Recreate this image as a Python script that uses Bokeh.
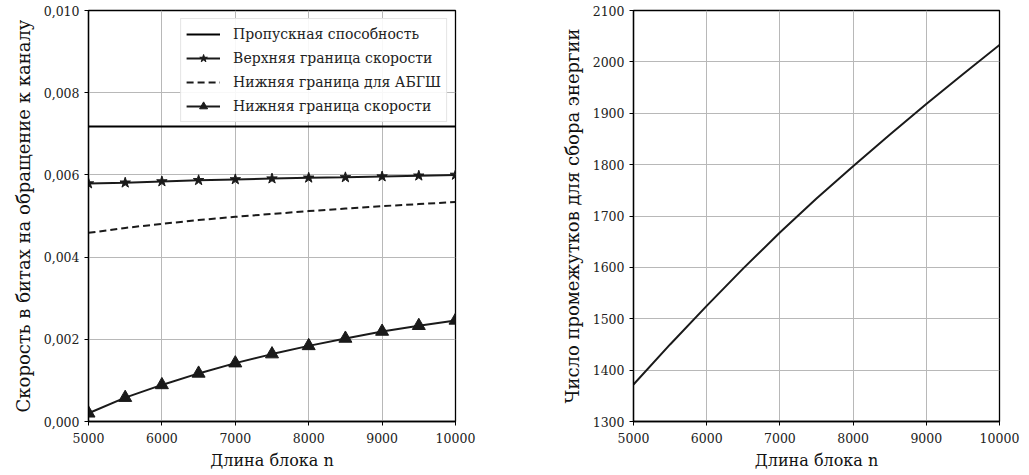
from bokeh.plotting import figure
from bokeh.layouts import row
from bokeh.models import Range1d, FixedTicker, CustomJSTickFormatter
from bokeh.embed import file_html
from bokeh.resources import INLINE

# Block lengths
n_points = [5000, 5500, 6000, 6500, 7000, 7500, 8000, 8500, 9000, 9500, 10000]

# Rates (bits per channel use)
capacity = [0.00718] * len(n_points)
rate_upper = [0.00579, 0.00581, 0.00584, 0.00587, 0.00589, 0.00591,
              0.00593, 0.00594, 0.00596, 0.00598, 0.00600]
awgn_lower = [0.00459, 0.00471, 0.00481, 0.00490, 0.00498, 0.00505,
              0.00512, 0.00518, 0.00524, 0.00529, 0.00534]
rate_lower = [0.00020, 0.00058, 0.00089, 0.00117, 0.00142, 0.00164,
              0.00184, 0.00202, 0.00219, 0.00233, 0.00246]

# Number of energy-harvesting slots
harvest_slots = [1372, 1450, 1525, 1598, 1668, 1734, 1797, 1858, 1918, 1976, 2033]

x_ticks = [5000, 6000, 7000, 8000, 9000, 10000]
rate_ticks = [0.0, 0.002, 0.004, 0.006, 0.008, 0.010]
slot_ticks = [1300, 1400, 1500, 1600, 1700, 1800, 1900, 2000, 2100]

FONT = "DejaVu Serif"
INK = "#1a1a1a"
GRID = "#b8b8b8"


def style(p, x_label, y_label):
    p.outline_line_color = "black"
    p.outline_line_width = 1.3
    p.outline_line_alpha = 1.0
    for ax in (p.xaxis[0], p.yaxis[0]):
        ax.axis_line_color = "black"
        ax.axis_line_width = 1.3
        ax.major_tick_in = 0
        ax.major_tick_out = 4
        ax.major_tick_line_color = "black"
        ax.minor_tick_line_color = None
        ax.major_label_text_font = FONT
        ax.major_label_text_font_size = "12.5px"
        ax.major_label_text_color = "#222222"
        ax.axis_label_text_font = FONT
        ax.axis_label_text_font_style = "normal"
        ax.axis_label_text_color = "#111111"
    p.xaxis.axis_label = x_label
    p.yaxis.axis_label = y_label
    p.xaxis.axis_label_text_font_size = "16px"
    p.yaxis.axis_label_text_font_size = "18px"
    p.xaxis.ticker = FixedTicker(ticks=x_ticks)
    p.xaxis.major_label_standoff = 7
    p.xaxis.axis_label_standoff = 5
    p.yaxis.major_label_standoff = 5
    p.yaxis.axis_label_standoff = 7
    p.grid.grid_line_color = GRID
    p.grid.grid_line_width = 1
    p.background_fill_color = "white"
    p.border_fill_color = "white"


# Left panel: rates
p1 = figure(width=540, height=475, output_backend="svg", toolbar_location=None,
            x_range=Range1d(5000, 10000), y_range=Range1d(0.0, 0.010),
            min_border_left=88, min_border_right=85,
            min_border_top=9, min_border_bottom=54)
style(p1, "Длина блока n", "Скорость в битах на обращение к каналу")
p1.yaxis.ticker = FixedTicker(ticks=rate_ticks)
p1.yaxis.formatter = CustomJSTickFormatter(code="return tick.toFixed(3).replace('.', ',');")

p1.line(n_points, capacity, line_color="black", line_width=2,
        legend_label="Пропускная способность")
p1.line(n_points, rate_upper, line_color=INK, line_width=2,
        legend_label="Верхняя граница скорости")
p1.scatter(n_points, rate_upper, marker="star", size=11, fill_color=INK,
           line_color=INK, legend_label="Верхняя граница скорости")
p1.line(n_points, awgn_lower, line_color=INK, line_width=2, line_dash="7 4",
        legend_label="Нижняя граница для АБГШ")
p1.line(n_points, rate_lower, line_color=INK, line_width=2,
        legend_label="Нижняя граница скорости")
p1.scatter(n_points, rate_lower, marker="triangle", size=13, fill_color=INK,
           line_color=INK, legend_label="Нижняя граница скорости")

lg = p1.legend[0]
lg.location = "top_right"
lg.margin = 8
lg.padding = 5
lg.spacing = 4
lg.glyph_width = 34
lg.glyph_height = 20
lg.label_height = 20
lg.label_standoff = 13
lg.label_text_font = FONT
lg.label_text_font_size = "14px"
lg.label_text_color = "#222222"
lg.border_line_color = "#cccccc"
lg.border_line_width = 1
lg.background_fill_alpha = 0.9

# Right panel: energy-harvesting slots
p2 = figure(width=489, height=475, output_backend="svg", toolbar_location=None,
            x_range=Range1d(5000, 10000), y_range=Range1d(1300, 2100),
            min_border_left=93, min_border_right=30,
            min_border_top=10, min_border_bottom=54)
style(p2, "Длина блока n", "Число промежутков для сбора энергии")
p2.yaxis.ticker = FixedTicker(ticks=slot_ticks)
p2.line(n_points, harvest_slots, line_color=INK, line_width=2)

layout = row(p1, p2)
open("out.html", "w").write(file_html(layout, INLINE))
